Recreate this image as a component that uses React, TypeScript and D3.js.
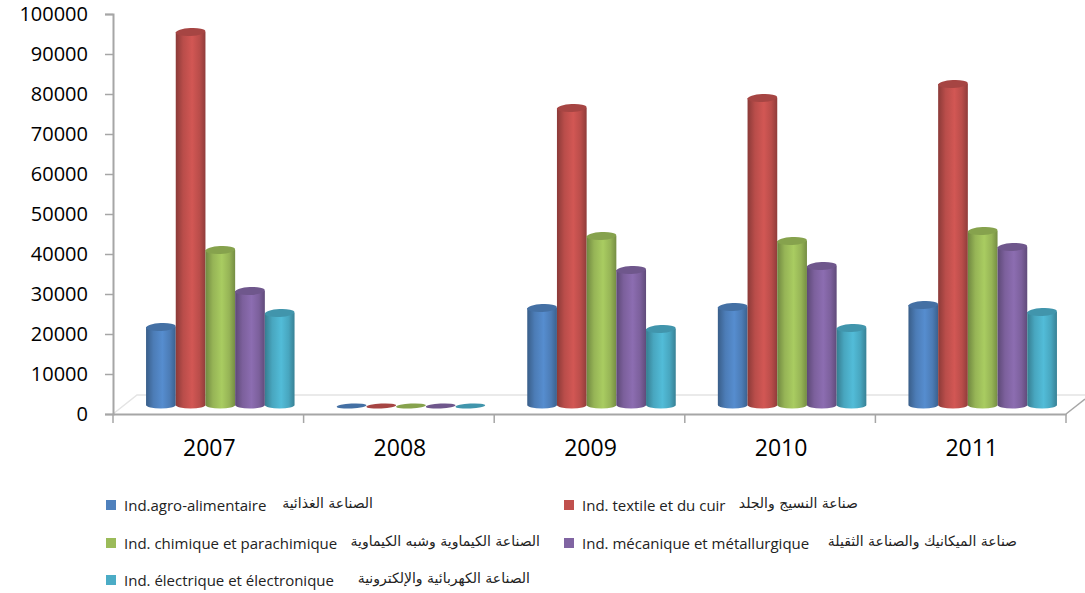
import React, { useEffect, useRef } from 'react';
import * as d3 from 'd3';

const years = ['2007', '2008', '2009', '2010', '2011'];
const yTicks = [0, 10000, 20000, 30000, 40000, 50000, 60000, 70000, 80000, 90000, 100000];

const seriesKeys = ['agro', 'textile', 'chimique', 'mecanique', 'electrique'];
const agro = [19500, 0, 24250, 24500, 25000];
const textile = [93250, 0, 74250, 76750, 80250];
const chimique = [38750, 0, 42250, 41000, 43500];
const mecanique = [28500, 0, 33750, 34750, 39500];
const electrique = [23000, 0, 19000, 19250, 23250];
const seriesValues = [agro, textile, chimique, mecanique, electrique];

const colors = ['#4F81BD', '#C0504D', '#9BBB59', '#8064A2', '#4BACC6'];

const legendLatin = [
  'Ind.agro-alimentaire',
  'Ind. textile et du cuir',
  'Ind. chimique et parachimique',
  'Ind. mécanique et métallurgique',
  'Ind. électrique et électronique',
];
const legendArabic = [
  'الصناعة الغذائية',
  'صناعة النسيج والجلد',
  'الصناعة الكيماوية وشبه الكيماوية',
  'صناعة الميكانيك والصناعة الثقيلة',
  'الصناعة الكهربائية والإلكترونية',
];

const App = () => {
  const chartRef = useRef<SVGSVGElement | null>(null);

  useEffect(() => {
    const svg = d3.select(chartRef.current);
    svg.selectAll('*').remove();

    // Scales
    const xScale = d3.scaleBand().domain(years).range([113, 1066]);
    const yScale = d3.scaleLinear().domain([0, 100000]).range([414, 14]);
    const barScale = d3.scaleBand().domain(seriesKeys).range([0, 148.5]);

    const depthX = 12; // bars stand in the middle of the floor
    const depthY = -9;
    const ry = 3.5;
    const tilt = -3;

    // Gradients for the cylinder shading
    const defs = svg.append('defs');
    colors.forEach((c, i) => {
      const base = d3.color(c)!;
      const grad = defs.append('linearGradient').attr('id', `cyl${i}`);
      [
        [0, base.darker(0.9)],
        [0.25, base.darker(0.1)],
        [0.55, base.brighter(0.25)],
        [0.8, base.darker(0.1)],
        [1, base.darker(0.8)],
      ].forEach(([o, col]: any) => {
        grad.append('stop').attr('offset', o).attr('stop-color', col.formatHex());
      });
    });

    // Floor
    const floorY = yScale(0) - 19;
    svg
      .append('path')
      .attr('d', `M113,${yScale(0)}L137,${floorY}H1085`)
      .attr('fill', 'none')
      .attr('stroke', '#e4e4e4')
      .attr('stroke-width', 1.5);
    svg
      .append('path')
      .attr('d', `M1066,${yScale(0)}L1085,${yScale(0) - 15}`)
      .attr('fill', 'none')
      .attr('stroke', '#a6a6a6')
      .attr('stroke-width', 1.5);

    // Axes
    const yAxis = d3
      .axisLeft(yScale)
      .tickValues(yTicks)
      .tickSize(8)
      .tickPadding(17)
      .tickFormat((d) => String(d));
    const xAxis = d3.axisBottom(xScale).tickSize(0).tickPadding(26);

    const gy = svg.append('g').attr('transform', 'translate(113,0)').call(yAxis as any);
    gy.selectAll('text')
      .attr('font-family', 'Open Sans')
      .attr('font-size', 20)
      .attr('fill', '#000');
    const gx = svg.append('g').attr('transform', `translate(0,${yScale(0)})`).call(xAxis as any);
    gx.selectAll('text')
      .attr('font-family', 'Open Sans')
      .attr('font-size', 23)
      .attr('dx', 1)
      .attr('fill', '#000');
    gx.selectAll('.tick line').remove();
    gx.selectAll('.boundary')
      .data([...years.map((y) => xScale(y)!), 1066])
      .enter()
      .append('line')
      .attr('x1', (d) => d)
      .attr('x2', (d) => d)
      .attr('y1', 0)
      .attr('y2', 9)
      .attr('stroke', '#a6a6a6')
      .attr('stroke-width', 1.5);
    svg.selectAll('.domain').attr('stroke', '#a6a6a6').attr('stroke-width', 2);
    gy.selectAll('.tick line').attr('stroke', '#a6a6a6').attr('stroke-width', 1.5);

    // Cylinders
    years.forEach((year, yi) => {
      const groupX = xScale(year)! + (xScale.bandwidth() - barScale.range()[1]) / 2 + depthX;
      const g = svg.append('g').attr('transform', `translate(${groupX},0)`);
      seriesKeys.forEach((key, si) => {
        const value = seriesValues[si][yi];
        const bw = barScale.bandwidth();
        const x0 = barScale(key)!;
        const rx = bw / 2;
        const cx = x0 + rx;
        const base = yScale(0) + depthY;
        const top = yScale(value) + depthY;
        if (value > 0) {
          g.append('path')
            .attr('d', `M${x0},${top}V${base}A${rx},${ry} 0 0 0 ${x0 + bw},${base}V${top}Z`)
            .attr('fill', `url(#cyl${si})`);
        }
        g.append('ellipse')
          .attr('cx', cx)
          .attr('cy', value > 0 ? top : top + 1)
          .attr('rx', rx)
          .attr('ry', value > 0 ? ry + 0.5 : 2.5)
          .attr('transform', `rotate(${tilt} ${cx} ${top})`)
          .attr('fill', d3.color(colors[si])!.darker(0.4).formatHex());
      });
    });

    // Legend
    const legendCols = [106, 564];
    const legendRows = [505, 543, 580];
    const legendArabicEnd = [373, 858, 540, 1017, 530];
    const legend = svg.append('g');
    legendLatin.forEach((label, i) => {
      const lx = legendCols[i % 2];
      const ly = legendRows[Math.floor(i / 2)];
      legend
        .append('rect')
        .attr('x', lx)
        .attr('y', ly - 5)
        .attr('width', 10)
        .attr('height', 10)
        .attr('fill', colors[i]);
      legend
        .append('text')
        .attr('x', lx + 18)
        .attr('y', ly + 6)
        .attr('font-family', 'Open Sans')
        .attr('font-size', 15)
        .attr('fill', '#222')
        .text(label);
      legend
        .append('text')
        .attr('x', legendArabicEnd[i])
        .attr('y', ly + 3)
        .attr('text-anchor', 'end')
        .attr('font-family', 'DejaVu Sans')
        .attr('font-size', 14)
        .attr('fill', '#222')
        .text(legendArabic[i]);
    });
  }, []);

  return (
    <svg
      ref={chartRef}
      width={1085}
      height={593}
      style={{ position: 'absolute', left: 0, top: 0, background: '#fff' }}
    />
  );
};

export default App;
